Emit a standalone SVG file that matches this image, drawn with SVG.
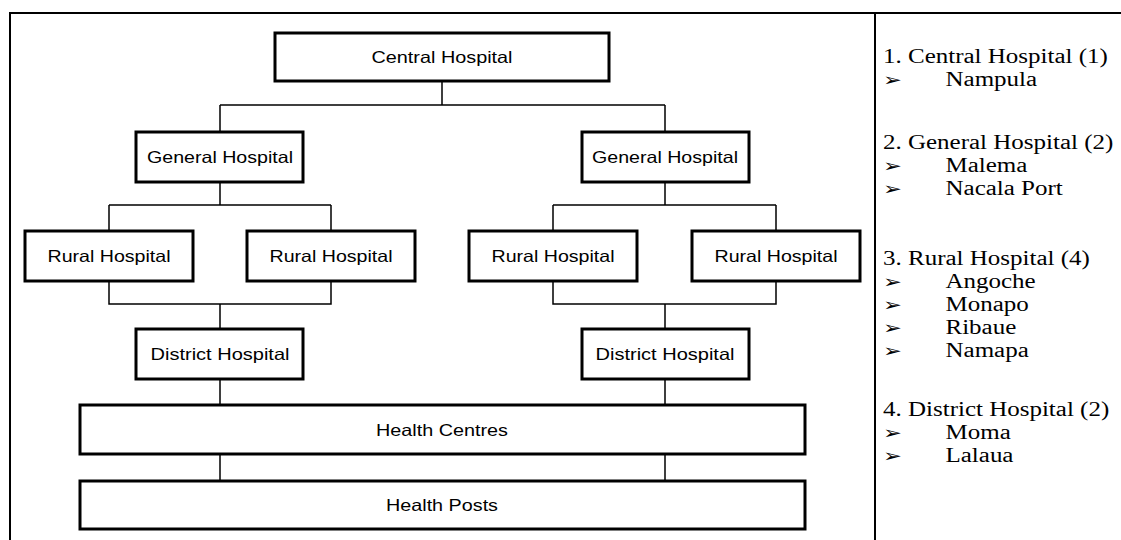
<svg xmlns="http://www.w3.org/2000/svg" width="1121" height="540" viewBox="0 0 1121 540">
<style>
.frame{stroke:#000;stroke-width:2;fill:none}
.box{fill:#fff;stroke:#000;stroke-width:3}
.con{stroke:#000;stroke-width:1.5;fill:none}
.lbl{font-family:"Liberation Sans",Arial,sans-serif;font-size:16.5px;fill:#000;text-anchor:middle}
.leg{font-family:"Liberation Serif","Times New Roman",serif;font-size:20px;fill:#000}
.arr{font-family:"DejaVu Sans",sans-serif;font-size:18px;fill:#000}
</style>
<rect width="1121" height="540" fill="#fff"/>
<g id="frame">
<path class="frame" d="M10,540 V13 H1121 M875,13 V540"/>
</g>
<g id="connectors">
<path class="con" d="M442,81 V105 M220,105 H665 M220,105 V132 M665,105 V132"/>
<path class="con" d="M220,182 V205 M109,205 H331 M109,205 V231 M331,205 V231"/>
<path class="con" d="M665,182 V205 M553,205 H776 M553,205 V231 M776,205 V231"/>
<path class="con" d="M109,281 V304 H331 V281 M220,304 V329"/>
<path class="con" d="M553,281 V304 H776 V281 M665,304 V329"/>
<path class="con" d="M220,379 V405 M665,379 V405 M220,454 V481 M665,454 V481"/>
</g>
<g id="central"><rect class="box" x="275" y="33" width="334" height="48"/><text class="lbl" x="442" y="63" textLength="141" lengthAdjust="spacingAndGlyphs">Central Hospital</text></g>
<g id="general1"><rect class="box" x="136" y="132" width="167" height="50"/><text class="lbl" x="220" y="163" textLength="146" lengthAdjust="spacingAndGlyphs">General Hospital</text></g>
<g id="general2"><rect class="box" x="582" y="132" width="167" height="50"/><text class="lbl" x="665" y="163" textLength="146" lengthAdjust="spacingAndGlyphs">General Hospital</text></g>
<g id="rural1"><rect class="box" x="25" y="231" width="168" height="50"/><text class="lbl" x="109" y="262" textLength="123" lengthAdjust="spacingAndGlyphs">Rural Hospital</text></g>
<g id="rural2"><rect class="box" x="247" y="231" width="168" height="50"/><text class="lbl" x="331" y="262" textLength="123" lengthAdjust="spacingAndGlyphs">Rural Hospital</text></g>
<g id="rural3"><rect class="box" x="469" y="231" width="168" height="50"/><text class="lbl" x="553" y="262" textLength="123" lengthAdjust="spacingAndGlyphs">Rural Hospital</text></g>
<g id="rural4"><rect class="box" x="692" y="231" width="168" height="50"/><text class="lbl" x="776" y="262" textLength="123" lengthAdjust="spacingAndGlyphs">Rural Hospital</text></g>
<g id="district1"><rect class="box" x="136" y="329" width="167" height="50"/><text class="lbl" x="220" y="360" textLength="139" lengthAdjust="spacingAndGlyphs">District Hospital</text></g>
<g id="district2"><rect class="box" x="582" y="329" width="167" height="50"/><text class="lbl" x="665" y="360" textLength="139" lengthAdjust="spacingAndGlyphs">District Hospital</text></g>
<g id="centres"><rect class="box" x="80" y="405" width="725" height="49"/><text class="lbl" x="442" y="436" textLength="132" lengthAdjust="spacingAndGlyphs">Health Centres</text></g>
<g id="posts"><rect class="box" x="80" y="481" width="725" height="48"/><text class="lbl" x="442" y="511" textLength="112" lengthAdjust="spacingAndGlyphs">Health Posts</text></g>
<g id="legend" transform="translate(883,0) scale(1.25,1)">
<text class="leg" x="0" y="63">1. Central Hospital (1)</text>
<text class="arr" x="0" y="86">➢</text><text class="leg" x="50" y="86">Nampula</text>
<text class="leg" x="0" y="149">2. General Hospital (2)</text>
<text class="arr" x="0" y="172">➢</text><text class="leg" x="50" y="172">Malema</text>
<text class="arr" x="0" y="195">➢</text><text class="leg" x="50" y="195">Nacala Port</text>
<text class="leg" x="0" y="265">3. Rural Hospital (4)</text>
<text class="arr" x="0" y="288">➢</text><text class="leg" x="50" y="288">Angoche</text>
<text class="arr" x="0" y="311">➢</text><text class="leg" x="50" y="311">Monapo</text>
<text class="arr" x="0" y="334">➢</text><text class="leg" x="50" y="334">Ribaue</text>
<text class="arr" x="0" y="357">➢</text><text class="leg" x="50" y="357">Namapa</text>
<text class="leg" x="0" y="416">4. District Hospital (2)</text>
<text class="arr" x="0" y="439">➢</text><text class="leg" x="50" y="439">Moma</text>
<text class="arr" x="0" y="462">➢</text><text class="leg" x="50" y="462">Lalaua</text>
</g>
</svg>
